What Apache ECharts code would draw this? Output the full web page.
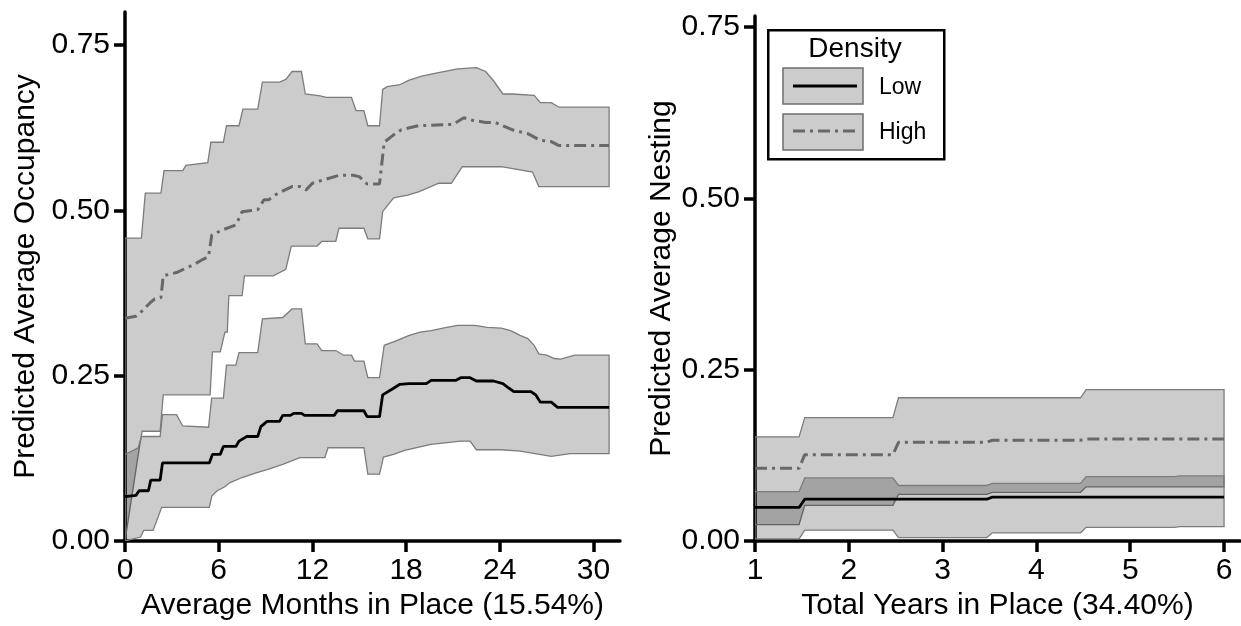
<!DOCTYPE html>
<html>
<head>
<meta charset="utf-8">
<script src="https://cdn.jsdelivr.net/npm/echarts@6/dist/echarts.min.js"></script>
<style>
html,body{margin:0;padding:0;background:#fff;}
#chart{width:1241px;height:626px;}
</style>
</head>
<body>
<div id="chart"></div>
<script>
// ---------- Left panel: Predicted Average Occupancy vs Average Months in Place ----------
const occXTicks = [0, 6, 12, 18, 24, 30];
const occYTicks = [0, 0.25, 0.5, 0.75];
// [months, value]
const occLowMean = [[0,0.067],[0.7,0.069],[0.9,0.076],[1.5,0.076],[1.65,0.092],[2.25,0.092],[2.4,0.118],[5.4,0.118],[5.6,0.131],[6.1,0.131],[6.3,0.143],[7.1,0.143],[7.3,0.151],[7.8,0.158],[8.5,0.158],[8.7,0.173],[9.1,0.181],[9.9,0.181],[10.1,0.190],[10.6,0.190],[10.8,0.193],[11.3,0.193],[11.5,0.190],[13.4,0.190],[13.6,0.197],[15.3,0.197],[15.5,0.188],[16.3,0.188],[16.5,0.221],[17.2,0.231],[17.6,0.237],[18.2,0.238],[19.3,0.238],[19.6,0.243],[21.2,0.243],[21.5,0.247],[22.1,0.247],[22.5,0.242],[23.6,0.242],[24.2,0.238],[24.6,0.231],[24.9,0.226],[26.0,0.226],[26.3,0.221],[26.6,0.210],[27.3,0.210],[27.7,0.202],[31.0,0.202]];
const occLowUpper = [[0,0.131],[0.85,0.141],[1.05,0.158],[2.25,0.158],[2.4,0.191],[3.3,0.191],[3.7,0.174],[5.35,0.172],[5.55,0.216],[6.3,0.216],[6.5,0.266],[7.1,0.266],[7.3,0.285],[8.5,0.285],[8.8,0.336],[10.1,0.338],[10.7,0.351],[11.3,0.351],[11.55,0.298],[12.3,0.298],[12.6,0.288],[13.5,0.288],[14.0,0.281],[14.5,0.281],[14.7,0.272],[15.3,0.272],[15.55,0.247],[16.3,0.247],[16.6,0.296],[17.4,0.303],[18.2,0.311],[18.9,0.316],[19.6,0.318],[20.6,0.323],[21.3,0.326],[22.4,0.326],[23.2,0.323],[24.1,0.322],[24.7,0.318],[25.3,0.311],[25.8,0.306],[26.2,0.296],[26.5,0.283],[27.0,0.281],[27.5,0.276],[27.9,0.275],[28.8,0.281],[31.0,0.281]];
const occLowLower = [[0,0.0],[1.0,0.006],[1.2,0.016],[1.8,0.016],[2.35,0.051],[5.4,0.051],[5.56,0.068],[5.9,0.076],[6.4,0.082],[6.7,0.088],[7.5,0.096],[8.4,0.103],[9.1,0.108],[10.1,0.116],[11.2,0.126],[12.8,0.126],[13.0,0.141],[15.3,0.141],[15.55,0.101],[16.3,0.101],[16.55,0.127],[17.2,0.131],[17.9,0.137],[19.6,0.146],[21.5,0.151],[22.1,0.151],[22.5,0.138],[24.1,0.138],[25.3,0.136],[27.3,0.128],[28.5,0.132],[31.0,0.132]];
const occHighMean = [[0,0.337],[0.7,0.340],[1.1,0.348],[1.6,0.360],[1.9,0.366],[2.3,0.368],[2.45,0.401],[3.3,0.406],[4.4,0.418],[5.0,0.426],[5.35,0.430],[5.56,0.463],[6.3,0.471],[7.1,0.478],[7.5,0.498],[8.5,0.501],[8.9,0.516],[9.2,0.516],[9.8,0.526],[10.7,0.536],[11.2,0.536],[11.6,0.531],[12.0,0.541],[12.7,0.546],[13.7,0.553],[14.6,0.553],[15.0,0.551],[15.5,0.540],[16.3,0.540],[16.6,0.603],[17.3,0.616],[17.7,0.622],[18.8,0.628],[21.0,0.630],[21.7,0.640],[22.3,0.636],[23.1,0.633],[23.7,0.633],[24.9,0.621],[25.8,0.616],[26.6,0.606],[27.3,0.604],[27.8,0.598],[31.0,0.598]];
const occHighUpper = [[0,0.458],[1.05,0.458],[1.3,0.526],[2.3,0.526],[2.5,0.560],[3.7,0.560],[3.9,0.568],[5.3,0.572],[5.5,0.603],[6.3,0.603],[6.5,0.628],[7.3,0.628],[7.55,0.653],[8.5,0.653],[8.8,0.694],[9.9,0.694],[10.3,0.698],[10.7,0.710],[11.3,0.710],[11.55,0.676],[12.5,0.673],[12.9,0.671],[14.5,0.671],[14.8,0.651],[15.3,0.651],[15.55,0.628],[16.3,0.628],[16.5,0.683],[16.8,0.687],[17.6,0.690],[18.2,0.697],[19.0,0.703],[20.0,0.708],[21.3,0.714],[22.5,0.716],[23.1,0.710],[23.6,0.696],[24.2,0.676],[24.8,0.676],[26.2,0.674],[26.6,0.663],[27.3,0.663],[27.8,0.656],[31.0,0.656]];
const occHighLower = [[0,0.0],[0.95,0.146],[1.1,0.166],[2.25,0.166],[2.45,0.221],[5.45,0.221],[5.6,0.286],[6.1,0.286],[6.4,0.316],[6.55,0.316],[6.65,0.371],[7.5,0.371],[7.65,0.401],[9.5,0.401],[10.3,0.411],[10.65,0.446],[12.3,0.446],[12.6,0.453],[13.5,0.453],[13.7,0.473],[15.3,0.473],[15.55,0.457],[16.3,0.457],[16.5,0.498],[17.2,0.519],[18.1,0.523],[18.8,0.528],[20.1,0.541],[20.9,0.541],[21.6,0.566],[24.1,0.566],[26.1,0.558],[26.5,0.536],[31.0,0.536]];

// ---------- Right panel: Predicted Average Nesting vs Total Years in Place ----------
const nestXTicks = [1, 2, 3, 4, 5, 6];
const nestYTicks = [0, 0.25, 0.5, 0.75];
const nestX         = [1,     1.47,  1.53,  2.47,  2.53,  3.47,  3.53,  4.47,  4.53,  5.47,  5.53,  6];
const nestHighUpper = [0.152, 0.152, 0.180, 0.180, 0.209, 0.209, 0.209, 0.209, 0.221, 0.221, 0.221, 0.221];
const nestHighMean  = [0.106, 0.106, 0.126, 0.126, 0.144, 0.144, 0.147, 0.147, 0.149, 0.149, 0.149, 0.149];
const nestHighLower = [0.024, 0.024, 0.052, 0.052, 0.068, 0.068, 0.071, 0.071, 0.079, 0.079, 0.079, 0.079];
const nestLowUpper  = [0.072, 0.072, 0.092, 0.092, 0.081, 0.081, 0.084, 0.084, 0.094, 0.094, 0.095, 0.095];
const nestLowMean   = [0.049, 0.049, 0.061, 0.061, 0.061, 0.061, 0.064, 0.064, 0.064, 0.064, 0.064, 0.064];
const nestLowLower  = [0.003, 0.003, 0.016, 0.016, 0.005, 0.005, 0.012, 0.012, 0.020, 0.020, 0.021, 0.021];

const legendTitle = 'Density';
const legendNames = ['Low', 'High'];

// ---------- build ----------
const FONT = "'Liberation Sans', Arial, Helvetica, sans-serif";
const zip = (xs, ys) => xs.map((x, i) => [x, ys[i]]);
const BAND_FILL = 'rgba(0,0,0,0.2)';
const BAND_EDGE = '#7c7c7c';
const DASHDOT = [12, 5, 3, 5];

function band(name, xi, upper, lower) {
  return {
    type: 'custom', name: name, xAxisIndex: xi, yAxisIndex: xi,
    data: [upper[0]], clip: true, silent: true, z: 2,
    renderItem: function (params, api) {
      const pts = upper.map(p => api.coord(p))
        .concat(lower.slice().reverse().map(p => api.coord(p)));
      return {
        type: 'polygon', shape: { points: pts },
        style: { fill: BAND_FILL, stroke: BAND_EDGE, lineWidth: 1.3 }
      };
    }
  };
}
function meanLine(name, xi, data, high) {
  return {
    type: 'line', name: name, xAxisIndex: xi, yAxisIndex: xi, data: data,
    symbol: 'none', silent: true, z: 5, animation: false,
    lineStyle: high ? { color: '#686868', width: 3, type: DASHDOT }
                    : { color: '#000', width: 2.8, type: 'solid' }
  };
}
function xAxisCfg(gi, min, max, ticks, name) {
  return {
    type: 'value', gridIndex: gi, min: min, max: max,
    name: name, nameLocation: 'middle', nameGap: 50,
    nameTextStyle: { fontSize: 30, fontFamily: FONT, color: '#000' },
    axisLine: { show: true, onZero: false, lineStyle: { color: '#000', width: 3.5 } },
    axisTick: { show: true, customValues: ticks, length: 11, lineStyle: { color: '#000', width: 3.5 } },
    axisLabel: { show: true, customValues: ticks, margin: 15, fontSize: 30, fontFamily: FONT, color: '#000',
                 formatter: v => String(v) },
    splitLine: { show: false }
  };
}
function yAxisCfg(gi, min, max, ticks, name, gap) {
  return {
    type: 'value', gridIndex: gi, min: min, max: max,
    name: name, nameLocation: 'middle', nameGap: gap,
    nameTextStyle: { fontSize: 30, fontFamily: FONT, color: '#000' },
    axisLine: { show: true, onZero: false, lineStyle: { color: '#000', width: 3.5 } },
    axisTick: { show: true, customValues: ticks, length: 11, lineStyle: { color: '#000', width: 3.5 } },
    axisLabel: { show: true, customValues: ticks, margin: 15, fontSize: 30, fontFamily: FONT, color: '#000',
                 formatter: v => v.toFixed(2) },
    splitLine: { show: false }
  };
}

const LX = 767, LY = 29;
const option = {
  animation: false,
  backgroundColor: '#fff',
  grid: [
    { left: 125, right: 621, top: 12, bottom: 82 },
    { left: 755, right: 1, top: 16, bottom: 82 }
  ],
  xAxis: [
    xAxisCfg(0, 0, 31.7, occXTicks, 'Average Months in Place (15.54%)'),
    xAxisCfg(1, 1, 6.17, nestXTicks, 'Total Years in Place (34.40%)')
  ],
  yAxis: [
    yAxisCfg(0, 0, 0.8, occYTicks, 'Predicted Average Occupancy', 84),
    yAxisCfg(1, 0, 0.766, nestYTicks, 'Predicted Average Nesting', 78)
  ],
  series: [
    band('High', 0, occHighUpper, occHighLower),
    band('Low', 0, occLowUpper, occLowLower),
    meanLine('Low', 0, occLowMean, false),
    meanLine('High', 0, occHighMean, true),
    band('High', 1, zip(nestX, nestHighUpper), zip(nestX, nestHighLower)),
    band('Low', 1, zip(nestX, nestLowUpper), zip(nestX, nestLowLower)),
    meanLine('Low', 1, zip(nestX, nestLowMean), false),
    meanLine('High', 1, zip(nestX, nestHighMean), true)
  ],
  graphic: [
    { type: 'rect', left: LX, top: LY, z: 100,
      shape: { width: 176, height: 129 }, style: { fill: '#fff', stroke: '#000', lineWidth: 2.5 } },
    { type: 'text', x: LX + 88, y: LY + 20, z: 101,
      style: { text: legendTitle, font: '28px ' + FONT, fill: '#000', align: 'center', verticalAlign: 'middle' } },
    { type: 'rect', x: LX + 16, y: LY + 39, z: 101,
      shape: { width: 80, height: 36 }, style: { fill: '#cccccc', stroke: '#6e6e6e', lineWidth: 1.5 } },
    { type: 'line', z: 102, shape: { x1: LX + 26, y1: LY + 57, x2: LX + 90, y2: LY + 57 },
      style: { stroke: '#000', lineWidth: 3 } },
    { type: 'text', x: LX + 112, y: LY + 59, z: 101,
      style: { text: legendNames[0], font: '23px ' + FONT, fill: '#000', align: 'left', verticalAlign: 'middle' } },
    { type: 'rect', x: LX + 16, y: LY + 85, z: 101,
      shape: { width: 80, height: 36 }, style: { fill: '#cccccc', stroke: '#6e6e6e', lineWidth: 1.5 } },
    { type: 'line', z: 102, shape: { x1: LX + 26, y1: LY + 102, x2: LX + 90, y2: LY + 102 },
      style: { stroke: '#686868', lineWidth: 3, lineDash: DASHDOT } },
    { type: 'text', x: LX + 112, y: LY + 104, z: 101,
      style: { text: legendNames[1], font: '23px ' + FONT, fill: '#000', align: 'left', verticalAlign: 'middle' } }
  ]
};
const chart = echarts.init(document.getElementById('chart'), null, { renderer: 'canvas' });
chart.setOption(option);
</script>
</body>
</html>
